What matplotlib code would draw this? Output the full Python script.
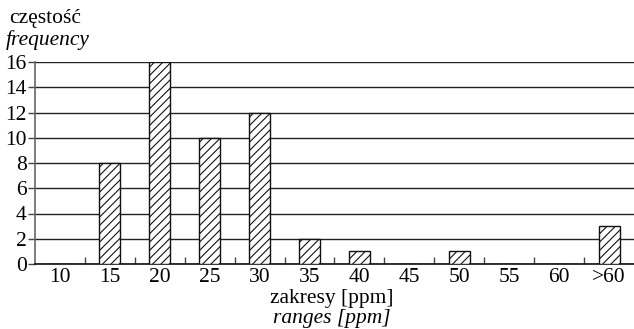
import matplotlib
matplotlib.use("Agg")
import matplotlib.pyplot as plt
import numpy as np

categories = ["10", "15", "20", "25", "30", "35", "40", "45", "50", "55", "60", ">60"]
counts = [0, 8, 16, 10, 12, 2, 1, 0, 1, 0, 0, 3]
y_ticks = [0, 2, 4, 6, 8, 10, 12, 14, 16]

plt.rcParams["font.family"] = ["Liberation Serif", "DejaVu Serif"]
plt.rcParams["hatch.linewidth"] = 0.8
FS = 15.5

fig = plt.figure(figsize=(6.34, 3.29), dpi=100)
ax = fig.add_axes([35 / 634, 65 / 329, 1 - 35 / 634, 202 / 329])

x = np.arange(len(categories))
ax.set_axisbelow(True)
ax.yaxis.grid(True, color="#222222", linewidth=1.0)
ax.bar(x, counts, width=0.42, color="white", edgecolor="#111111",
       linewidth=1.0, hatch="////", zorder=3)

ax.set_xlim(-0.5, len(categories) - 0.5)
ax.set_ylim(0, 16)
ax.set_yticks(y_ticks)
ax.set_xticks(x)
ax.set_xticklabels(categories)
ax.set_xticks(np.arange(0.5, len(categories) - 0.5, 1), minor=True)

ax.tick_params(axis="x", which="major", length=0, pad=3, labelsize=FS)
ax.tick_params(axis="x", which="minor", direction="in", length=5, width=1, color="#444444")
ax.tick_params(axis="y", which="major", direction="out", length=5, width=1,
               color="#444444", pad=1, labelsize=FS)

for side in ["top", "right"]:
    ax.spines[side].set_visible(False)
ax.spines["left"].set_color("#666666")
ax.spines["left"].set_linewidth(1.2)
ax.spines["bottom"].set_color("#111111")
ax.spines["bottom"].set_linewidth(1.2)

fig.text(9 / 634, 1 - 19 / 329, "częstość", fontsize=FS, va="center", ha="left")
fig.text(6 / 634, 1 - 40 / 329, "frequency", fontsize=FS, style="italic",
         va="center", ha="left")
fig.text(332 / 634, 1 - 299 / 329, "zakresy [ppm]", fontsize=FS,
         va="center", ha="center")
fig.text(332 / 634, 1 - 318 / 329, "ranges [ppm]", fontsize=FS, style="italic",
         va="center", ha="center")

fig.savefig("out.png", dpi=100)
